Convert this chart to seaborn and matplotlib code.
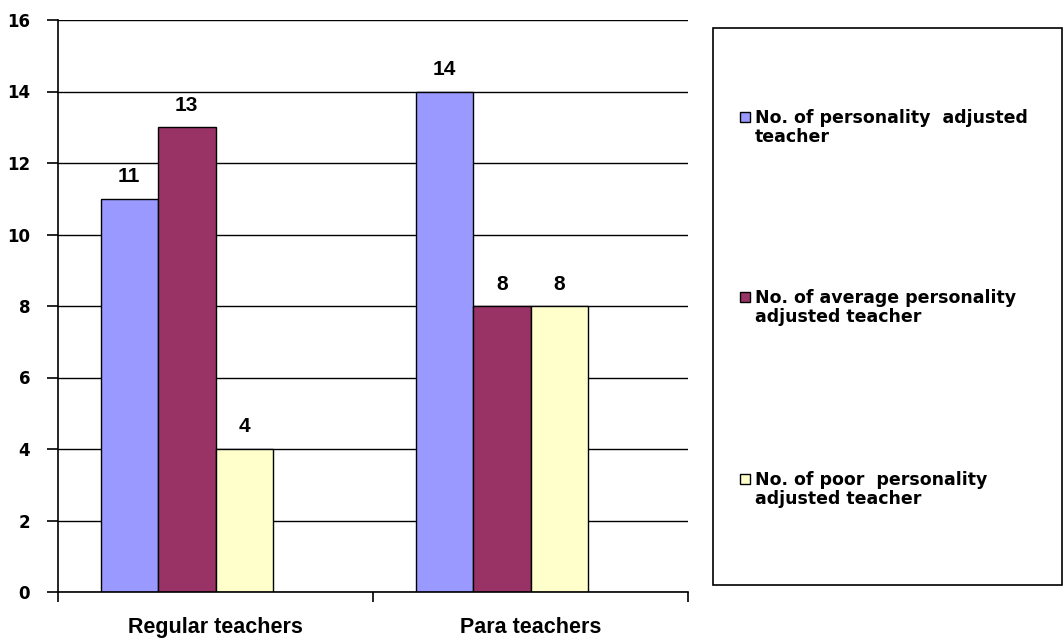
import matplotlib
matplotlib.use("Agg")
import matplotlib.pyplot as plt
from matplotlib.patches import Rectangle
import pandas as pd
import seaborn as sns

# Data
categories = ["Regular teachers", "Para teachers"]
series_names = [
    "No. of personality  adjusted\nteacher",
    "No. of average personality\nadjusted teacher",
    "No. of poor  personality\nadjusted teacher",
]
personality_adjusted = [11, 14]
average_adjusted = [13, 8]
poor_adjusted = [4, 8]
colors = ["#9999FF", "#993366", "#FFFFCC"]

sns.set_style("white")
plt.rcParams["font.family"] = ["Liberation Sans", "DejaVu Sans"]
plt.rcParams["font.weight"] = "bold"
plt.rcParams["text.color"] = "black"
plt.rcParams["xtick.color"] = "black"
plt.rcParams["ytick.color"] = "black"

rows = []
for name, vals in zip(series_names, [personality_adjusted, average_adjusted, poor_adjusted]):
    for cat, v in zip(categories, vals):
        rows.append({"category": cat, "series": name, "value": v})
# empty fourth slot keeps the Excel-style spacing within each group
for cat in categories:
    rows.append({"category": cat, "series": "_blank", "value": 0})
df = pd.DataFrame(rows)

W, H = 1064, 641
fig = plt.figure(figsize=(W / 100, H / 100), dpi=100)
ax = fig.add_axes([58 / W, 49 / H, 630 / W, 572 / H])

sns.barplot(data=df, x="category", y="value", hue="series",
            hue_order=series_names + ["_blank"],
            palette=colors + ["#FFFFFF"], saturation=1, width=0.73, dodge=True,
            edgecolor="black", linewidth=1, errorbar=None, ax=ax, legend=False,
            order=categories)

# drop the invisible spacer bars and label the rest
n_real = len(series_names) * len(categories)
for i, p in enumerate(list(ax.patches)):
    if i >= n_real:
        p.remove()
for cont in ax.containers[:len(series_names)]:
    ax.bar_label(cont, padding=9, fontsize=15, fontweight="bold",
                 family="Liberation Sans")

ax.set_ylim(0, 16)
ax.set_yticks(range(0, 17, 2))
ax.set_xlim(-0.5, 1.5)
ax.set_xticks([-0.5, 0.5, 1.5])
ax.set_xticklabels(["", "", ""])
ax.set_xticks([0, 1], minor=True)
ax.set_xticklabels(categories, minor=True)
ax.tick_params(axis="x", which="minor", bottom=False, length=0, pad=18, labelsize=15.5)
ax.tick_params(axis="x", which="major", bottom=True, direction="out", length=7, width=1.2)
ax.tick_params(axis="y", left=True, direction="out", length=8, width=1.2, pad=12,
               labelsize=12)
for lab in ax.get_xticklabels(minor=True):
    lab.set_fontweight("bold")
for lab in ax.get_yticklabels():
    lab.set_fontweight("bold")
    lab.set_family("DejaVu Sans")
ax.set_xlabel("")
ax.set_ylabel("")

ax.yaxis.grid(True, color="black", linewidth=1)
ax.set_axisbelow(True)
for side in ["top", "right"]:
    ax.spines[side].set_visible(False)
for side in ["left", "bottom"]:
    ax.spines[side].set_color("black")
    ax.spines[side].set_linewidth(1.2)

# Legend box
fig.patches.append(Rectangle((713 / W, (H - 585) / H), 349 / W, 557 / H,
                             transform=fig.transFigure, facecolor="white",
                             edgecolor="black", linewidth=1.2))
entry_baselines = [123, 303, 485]
line_step = 19
for name, c, yb in zip(series_names, colors, entry_baselines):
    fig.patches.append(Rectangle((740 / W, (H - yb + 1) / H), 10 / W, 10 / H,
                                 transform=fig.transFigure, facecolor=c,
                                 edgecolor="black", linewidth=1))
    for k, line in enumerate(name.split("\n")):
        fig.text(755 / W, (H - yb - k * line_step) / H, line, ha="left",
                 va="baseline", fontsize=12.5, fontweight="bold",
                 family="DejaVu Sans")

fig.savefig("out.png", dpi=100)
